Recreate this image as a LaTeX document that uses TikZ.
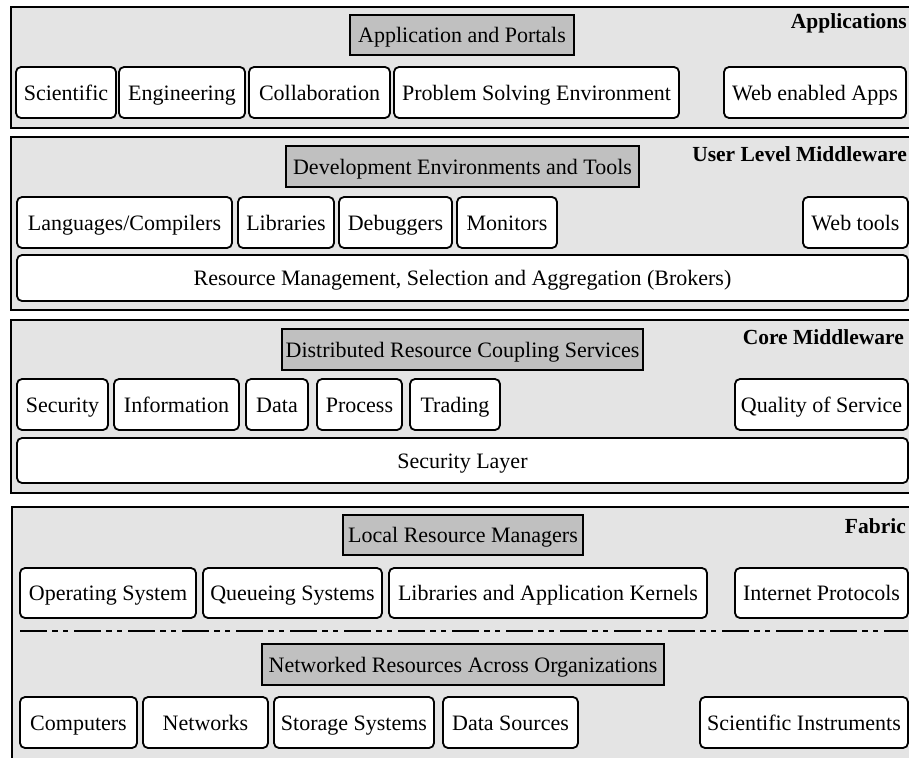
\documentclass[tikz,border=0pt]{standalone}
\usepackage{fontspec}
\setmainfont{Liberation Serif}
\definecolor{panelgray}{RGB}{228,228,228}
\definecolor{titlegray}{RGB}{192,192,192}
\newcommand\bx[7]{\node[#2, minimum width={#5-#3}, minimum height={#6-#4}] (#1) at ({(#3+#5)/2},{(#4+#6)/2}) {#7};}
\tikzset{
  panel/.style={draw=black, line width=2.4pt, fill=panelgray, inner sep=0pt},
  titlebox/.style={draw=black, line width=1.8pt, fill=titlegray, inner sep=0pt, text height=16pt, text depth=1pt},
  itembox/.style={draw=black, line width=1.8pt, fill=white, rounded corners=5pt, inner sep=0pt, text height=16pt, text depth=1pt},
  layerlabel/.style={font=\fontsize{21.5}{25}\selectfont\bfseries, inner sep=0pt, anchor=base east},
  sep/.style={line width=2pt, dash pattern=on 27pt off 5pt on 6pt off 5pt on 5pt off 6pt}
}
\begin{document}
\begin{tikzpicture}[x=1pt, y=-1pt, font=\fontsize{22}{26}\selectfont]
\useasboundingbox (0,0) rectangle (909,757);
\clip (0,0) rectangle (909,757);
\fill[white] (0,0) rectangle (909,757);
% panels
\bx{p1}{panel}{11}{7}{918}{128}{}
\bx{p2}{panel}{11}{137}{918}{310}{}
\bx{p3}{panel}{11}{320}{918}{493}{}
\bx{p4}{panel}{12}{507}{918}{775}{}
% labels
\node[layerlabel] (l1) at (907,29) {Applications};
\node[layerlabel] (l2) at (907,161) {User Level Middleware};
\node[layerlabel] (l3) at (904,344) {Core Middleware};
\node[layerlabel] (l4) at (906,533) {Fabric};
% Applications
\bx{t1}{titlebox}{350}{15}{574}{55}{Application and Portals}
\bx{a1}{itembox}{16}{67}{116}{118}{Scientific}
\bx{a2}{itembox}{119}{67}{245}{118}{Engineering}
\bx{a3}{itembox}{249}{67}{390}{118}{Collaboration}
\bx{a4}{itembox}{394}{67}{679}{118}{Problem Solving Environment}
\bx{a5}{itembox}{724}{67}{906}{118}{Web enabled Apps}
% User level middleware
\bx{t2}{titlebox}{286}{146}{639}{187}{Development Environments and Tools}
\bx{u1}{itembox}{17}{197}{232}{248}{Languages/Compilers}
\bx{u2}{itembox}{238}{197}{334}{248}{Libraries}
\bx{u3}{itembox}{339}{197}{452}{248}{Debuggers}
\bx{u4}{itembox}{457}{197}{557}{248}{Monitors}
\bx{u5}{itembox}{803}{197}{908}{248}{Web tools}
\bx{u6}{itembox}{17}{255}{908}{301}{Resource Management, Selection and Aggregation (Brokers)}
% Core middleware
\bx{t3}{titlebox}{282}{329}{643}{370}{Distributed Resource Coupling Services}
\bx{c1}{itembox}{17}{379}{108}{430}{Security}
\bx{c2}{itembox}{114}{379}{239}{430}{Information}
\bx{c3}{itembox}{246}{379}{308}{430}{Data}
\bx{c4}{itembox}{317}{379}{402}{430}{Process}
\bx{c5}{itembox}{410}{379}{500}{430}{Trading}
\bx{c6}{itembox}{735}{379}{908}{430}{Quality of Service}
\bx{c7}{itembox}{17}{438}{908}{483}{Security Layer}
% Fabric
\bx{t4}{titlebox}{343}{515}{583}{555}{Local Resource Managers}
\bx{f1}{itembox}{20}{568}{196}{618}{Operating System}
\bx{f2}{itembox}{203}{568}{382}{618}{Queueing Systems}
\bx{f3}{itembox}{389}{568}{707}{618}{Libraries and Application Kernels}
\bx{f4}{itembox}{735}{568}{908}{618}{Internet Protocols}
\coordinate (dl) at (20,631);
\coordinate (dr) at (908,631);
\draw[sep] (dl) -- (dr);
\bx{t5}{titlebox}{262}{644}{664}{685}{Networked Resources Across Organizations}
\bx{n1}{itembox}{20}{697}{137}{748}{Computers}
\bx{n2}{itembox}{143}{697}{268}{748}{Networks}
\bx{n3}{itembox}{274}{697}{434}{748}{Storage Systems}
\bx{n4}{itembox}{443}{697}{578}{748}{Data Sources}
\bx{n5}{itembox}{700}{697}{908}{748}{Scientific Instruments}
\end{tikzpicture}
\end{document}
